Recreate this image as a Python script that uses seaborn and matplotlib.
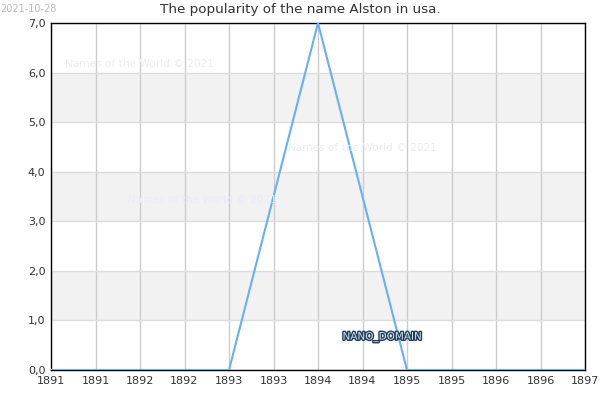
import numpy as np
import pandas as pd
import seaborn as sns
import matplotlib.pyplot as plt
import matplotlib.patheffects as pe
from matplotlib.ticker import FuncFormatter, MultipleLocator

years = [1891, 1892, 1893, 1894, 1895, 1896, 1897]
counts = [0, 0, 0, 7, 0, 0, 0]
title = "The popularity of the name Alston in usa."

df = pd.DataFrame({"year": years, "count": counts})

sns.set_style("white")
plt.rcParams["font.family"] = ["DejaVu Sans"]

fig = plt.figure(figsize=(6, 4), dpi=100)
ax = fig.add_axes([0.085, 0.075, 0.89, 0.8675])

# alternating bands
for lo in [1, 3, 5]:
    ax.axhspan(lo, lo + 1, color="#f2f2f2", zorder=0, lw=0)

ax.set_xlim(1891, 1897)
ax.set_ylim(0, 7)
ax.xaxis.set_major_locator(MultipleLocator(0.5))
ax.yaxis.set_major_locator(MultipleLocator(1))
ax.xaxis.set_major_formatter(FuncFormatter(lambda v, p: str(int(v))))
ax.yaxis.set_major_formatter(FuncFormatter(lambda v, p: f"{v:.1f}".replace(".", ",")))
ax.grid(axis="x", color="#cccccc", lw=1, zorder=1)
ax.grid(axis="y", color="#dddddd", lw=1, zorder=1)
ax.set_axisbelow(True)
for s in ax.spines.values():
    s.set_color("black")
    s.set_linewidth(1)
ax.tick_params(labelsize=8, length=0, pad=4, colors="#333333")

# watermarks
for x, y in [(65, 64), (288, 148), (128, 200)]:
    fig.text(x / 600, 1 - y / 400, "Names of the World © 2021",
             fontsize=7.6, color="#ececfb", va="center", ha="left", zorder=2)

sns.lineplot(data=df, x="year", y="count", ax=ax, color="#66b0f5", lw=1.5, zorder=3)
ax.set_xlabel("")
ax.set_ylabel("")

ax.text(0.62, 0.095, "NANO_DOMAIN", transform=ax.transAxes, fontsize=7.5,
        color="#cfe0ee", ha="center", va="center", zorder=4,
        path_effects=[pe.withStroke(linewidth=2, foreground="#1f3d5c")])

fig.text(0.5, 0.975, title, ha="center", va="center", fontsize=9.7, color="#333333")
fig.text(0.0, 0.99, "2021-10-28", ha="left", va="top", fontsize=7, color="#bbbbbb")

fig.savefig("out.png", dpi=100)
